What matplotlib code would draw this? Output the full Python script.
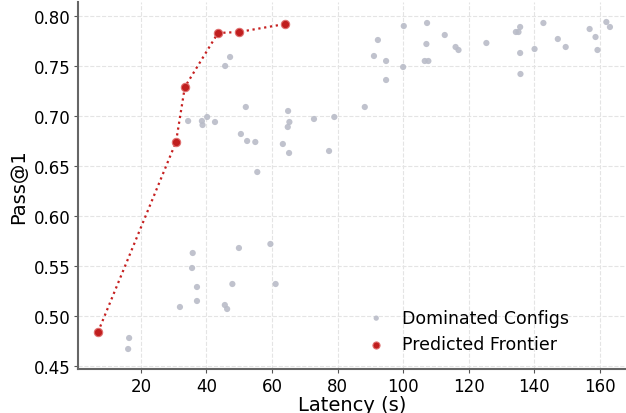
import matplotlib
matplotlib.use("Agg")
import matplotlib.pyplot as plt

# Configurations that are dominated on the latency / Pass@1 trade-off
dominated_latency = [
    47.2, 45.7, 52.0, 64.9, 34.4, 38.6, 40.2, 38.8, 42.6, 65.3, 64.8, 72.8, 79.0,
    50.5, 52.4, 54.9, 63.3, 65.2, 77.4, 55.5,
    100.2, 107.3, 112.7, 92.3, 91.1, 94.8, 94.8, 100.0, 107.1, 106.6, 107.7,
    116.0, 116.9, 125.4, 134.4, 135.2, 135.7, 135.7, 135.8, 142.8, 140.1, 147.2,
    149.6, 156.9, 158.7, 159.3, 162.0, 163.1, 88.3,
    16.4, 16.1, 35.8, 35.6, 37.1, 37.1, 31.9, 45.6, 46.3, 47.9, 49.9, 59.5, 61.1,
]
dominated_pass = [
    0.759, 0.750, 0.709, 0.705, 0.695, 0.695, 0.699, 0.691, 0.694, 0.694, 0.689, 0.697, 0.699,
    0.682, 0.675, 0.674, 0.672, 0.663, 0.665, 0.644,
    0.790, 0.793, 0.781, 0.776, 0.760, 0.755, 0.736, 0.749, 0.772, 0.755, 0.755,
    0.769, 0.766, 0.773, 0.784, 0.784, 0.789, 0.763, 0.742, 0.793, 0.767, 0.777,
    0.769, 0.787, 0.779, 0.766, 0.794, 0.789, 0.709,
    0.478, 0.467, 0.563, 0.548, 0.529, 0.515, 0.509, 0.511, 0.507, 0.532, 0.568, 0.572, 0.532,
]

# Predicted Pareto frontier
frontier_latency = [6.9, 30.7, 33.4, 43.5, 49.9, 64.0]
frontier_pass = [0.484, 0.674, 0.729, 0.783, 0.784, 0.792]

x_ticks = [20, 40, 60, 80, 100, 120, 140, 160]
y_ticks = [0.45, 0.50, 0.55, 0.60, 0.65, 0.70, 0.75, 0.80]

fig = plt.figure(figsize=(6.26, 4.14), dpi=100)
ax = fig.add_axes([78 / 626, 44 / 414, 548 / 626, 367 / 414])

ax.scatter(dominated_latency, dominated_pass, s=20, color="#b9bcc8", alpha=0.9,
           edgecolors="none", label="Dominated Configs", zorder=2)
ax.plot(frontier_latency, frontier_pass, linestyle=":", color="#c62020",
        linewidth=1.6, zorder=3)
ax.scatter(frontier_latency, frontier_pass, s=36, color="#c01e1e",
           edgecolors="#e07070", linewidths=0.8, label="Predicted Frontier", zorder=4)

ax.set_xlim(0.8, 168)
ax.set_ylim(0.447, 0.814)
ax.set_xticks(x_ticks)
ax.set_yticks(y_ticks)
ax.set_yticklabels([f"{v:.2f}" for v in y_ticks])
ax.tick_params(labelsize=12, length=3, pad=2.5, color="#555555")
ax.grid(True, linestyle="--", color="#e4e4e4", linewidth=0.8)
ax.set_axisbelow(True)

for side in ("top", "right"):
    ax.spines[side].set_visible(False)
for side in ("left", "bottom"):
    ax.spines[side].set_color("#666666")
    ax.spines[side].set_linewidth(1.5)

ax.set_xlabel("Latency (s)", fontsize=14, labelpad=0)
ax.set_ylabel("Pass@1", fontsize=14, labelpad=4)

leg = ax.legend(loc="lower right", bbox_to_anchor=(0.925, 0.0), frameon=False,
                fontsize=12.5, handletextpad=0.5, markerscale=0.85)

fig.savefig("out.png", dpi=100)
